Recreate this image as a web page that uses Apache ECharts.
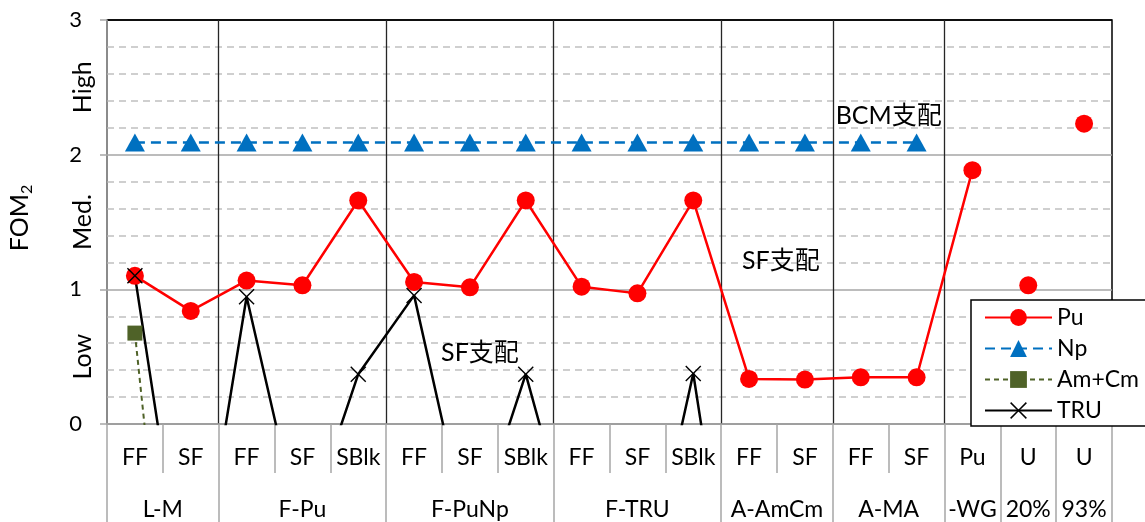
<!DOCTYPE html>
<html>
<head>
<meta charset="utf-8">
<script src="https://cdn.jsdelivr.net/npm/echarts@6/dist/echarts.min.js"></script>
<style>
  html, body { margin: 0; padding: 0; background: #fff; }
  #chart { width: 1145px; height: 522px; }
</style>
</head>
<body>
<div id="chart"></div>
<script>
// ---- data ----
const subLabels = ['FF', 'SF', 'FF', 'SF', 'SBlk', 'FF', 'SF', 'SBlk', 'FF', 'SF', 'SBlk', 'FF', 'SF', 'FF', 'SF', 'Pu', 'U', 'U'];
const groupLabels = ['L-M', 'F-Pu', 'F-PuNp', 'F-TRU', 'A-AmCm', 'A-MA', '-WG', '20%', '93%'];
const groupSizes = [2, 3, 3, 3, 2, 2, 1, 1, 1];
const levelLabels = ['Low', 'Med.', 'High'];

const puValues = [1.10, 0.84, 1.065, 1.03, 1.66, 1.055, 1.015, 1.66, 1.02, 0.97, 1.66, 0.335, 0.33, 0.347, 0.347, 1.885, 1.03, 2.23];
const npValues = [2.09, 2.09, 2.09, 2.09, 2.09, 2.09, 2.09, 2.09, 2.09, 2.09, 2.09, 2.09, 2.09, 2.09, 2.09, null, null, null];
const amcmValues = [0.675, -3.3, null, null, null, null, null, null, null, null, null, null, null, null, null, null, null, null];
const truValues = [1.10, -1.6, 0.945, -0.86, 0.37, 0.955, -0.89, 0.37, -1.13, -1.5, 0.375, -2.3, null, null, null, null, null, null];

// Pu points for the enriched-U cases stand alone (not joined to the line)
const puJoinedCount = 16;

const noteTexts = ['BCM支配', 'SF支配', 'SF支配'];
const noteX = [14.0, 12.07, 6.68];
const noteY = [2.29, 1.21, 0.53];

// ---- derived layout helpers ----
const FONT = 'Lato, "Noto Sans CJK JP", sans-serif';
const nCat = subLabels.length;

// half-slot axis used for the group row: index k sits at k/2 category widths
const halfSlots = new Array(nCat * 2 + 1).fill('');
const groupBounds = new Set([0]);
const groupCenters = new Set();
const plotDividers = new Set();
let start = 0;
groupLabels.forEach((g, i) => {
  const c = start * 2 + groupSizes[i];
  halfSlots[c] = g;
  groupCenters.add(c);
  start += groupSizes[i];
  groupBounds.add(start * 2);
  if (i < 6) plotDividers.add(start * 2);
});

const puLine = puValues.map((v, i) => (i < puJoinedCount ? v : null));
const puSingles = puValues.map((v, i) => (i < puJoinedCount ? null : v));

const crossPath = 'path://M0,1L1,0L8,7L15,0L16,1L9,8L16,15L15,16L8,9L1,16L0,15L7,8Z';

const chart = echarts.init(document.getElementById('chart'), null, { renderer: 'canvas' });

chart.setOption({
  animation: false,
  backgroundColor: '#fff',
  grid: {
    left: 107, right: 33, top: 20, bottom: 98,
    show: true, borderColor: '#000', borderWidth: 1.5,
    containLabel: false, outerBoundsMode: 'none'
  },
  legend: {
    orient: 'vertical',
    left: 971, top: 300,
    data: ['Pu', 'Np', 'Am+Cm', 'TRU'],
    itemWidth: 67, itemHeight: 21, itemGap: 8,
    padding: [6, 120, 4, 13],
    backgroundColor: '#fff',
    borderColor: '#000', borderWidth: 1.5,
    selectedMode: false,
    textStyle: { fontFamily: FONT, fontSize: 23, lineHeight: 21, color: '#000' }
  },
  xAxis: [
    {
      type: 'category',
      data: subLabels,
      position: 'bottom',
      axisLine: { show: true, lineStyle: { color: '#a6a6a6', width: 1.5 } },
      axisTick: { show: true, interval: 0, length: 49, lineStyle: { color: '#a6a6a6', width: 1.5 } },
      axisLabel: { interval: 0, margin: 22, fontFamily: FONT, fontSize: 23, color: '#000' },
      splitLine: { show: false }
    },
    {
      type: 'category',
      data: halfSlots,
      boundaryGap: false,
      position: 'bottom',
      axisLine: { show: false },
      axisTick: {
        show: true, length: 98,
        interval: (idx) => groupBounds.has(idx),
        lineStyle: { color: '#a6a6a6', width: 1.5 }
      },
      axisLabel: {
        margin: 74, fontFamily: FONT, fontSize: 23, color: '#000',
        interval: (idx) => groupCenters.has(idx)
      },
      splitLine: {
        show: true,
        interval: (idx) => plotDividers.has(idx),
        lineStyle: { color: '#262626', width: 1.3 }
      }
    },
    { type: 'value', min: 0, max: nCat, show: false }
  ],
  yAxis: [
    {
      type: 'value', min: 0, max: 3, interval: 1,
      name: 'FOM{s|2}',
      nameLocation: 'middle',
      nameGap: 72,
      nameRotate: 90,
      nameTextStyle: {
        fontFamily: FONT, fontSize: 25, color: '#000', lineHeight: 30,
        padding: [0, 0, 0, 8],
        rich: { s: { fontFamily: FONT, fontSize: 16, lineHeight: 12, verticalAlign: 'bottom', color: '#000' } }
      },
      axisLine: { show: true, lineStyle: { color: '#a6a6a6', width: 1.5 } },
      axisTick: { show: true, length: 7, lineStyle: { color: '#a6a6a6', width: 1.5 } },
      axisLabel: { margin: 25, fontFamily: FONT, fontSize: 22, color: '#000' },
      splitLine: { show: true, lineStyle: { color: ['#a6a6a6', '#a6a6a6', '#a6a6a6', '#000'], width: 1.5 } },
      minorTick: { show: false, splitNumber: 5 },
      minorSplitLine: { show: true, lineStyle: { color: '#c0c0c0', width: 1.5, type: [7, 5] } }
    },
    {
      type: 'value', min: 0, max: 3, interval: 0.5,
      position: 'left',
      axisLine: { show: false },
      axisTick: { show: false },
      splitLine: { show: false },
      axisLabel: {
        rotate: 90, margin: 12, fontFamily: FONT, fontSize: 25, color: '#000',
        formatter: (v) => (Math.round(v * 2) % 2 === 1 ? levelLabels[Math.floor(v)] : '')
      }
    }
  ],
  series: [
    {
      name: 'Pu', type: 'line', data: puLine,
      symbol: 'circle', symbolSize: 18, showAllSymbol: true,
      lineStyle: { color: '#ff0000', width: 2.5 },
      itemStyle: { color: '#ff0000' },
      emphasis: { disabled: true }
    },
    {
      name: 'Pu', type: 'line', data: puSingles,
      symbol: 'circle', symbolSize: 18, showAllSymbol: true,
      lineStyle: { width: 0, opacity: 0 },
      itemStyle: { color: '#ff0000' },
      emphasis: { disabled: true }
    },
    {
      name: 'Np', type: 'line', data: npValues,
      symbol: 'triangle', symbolSize: [20, 18], showAllSymbol: true,
      lineStyle: { color: '#0070c0', width: 2.5, type: [10, 6] },
      itemStyle: { color: '#0070c0' },
      emphasis: { disabled: true }
    },
    {
      name: 'Am+Cm', type: 'line', data: amcmValues,
      symbol: 'rect', symbolSize: 15, showAllSymbol: true,
      lineStyle: { color: '#4f6228', width: 2, type: [5, 4] },
      itemStyle: { color: '#4f6228' },
      emphasis: { disabled: true }
    },
    {
      name: 'TRU', type: 'line', data: truValues,
      symbol: crossPath, symbolSize: 16, showAllSymbol: true,
      lineStyle: { color: '#000', width: 2.5 },
      itemStyle: { color: '#000' },
      emphasis: { disabled: true }
    },
    {
      name: 'notes', type: 'scatter', xAxisIndex: 2, yAxisIndex: 0,
      data: noteTexts.map((t, i) => [noteX[i], noteY[i], t]),
      symbolSize: 1,
      itemStyle: { color: 'rgba(255,255,255,0)', opacity: 1 },
      silent: true,
      label: {
        show: true, position: 'inside',
        formatter: (p) => p.data[2],
        fontFamily: FONT, fontSize: 25, color: '#000', opacity: 1
      },
      emphasis: { disabled: true }
    }
  ]
});
</script>
</body>
</html>
